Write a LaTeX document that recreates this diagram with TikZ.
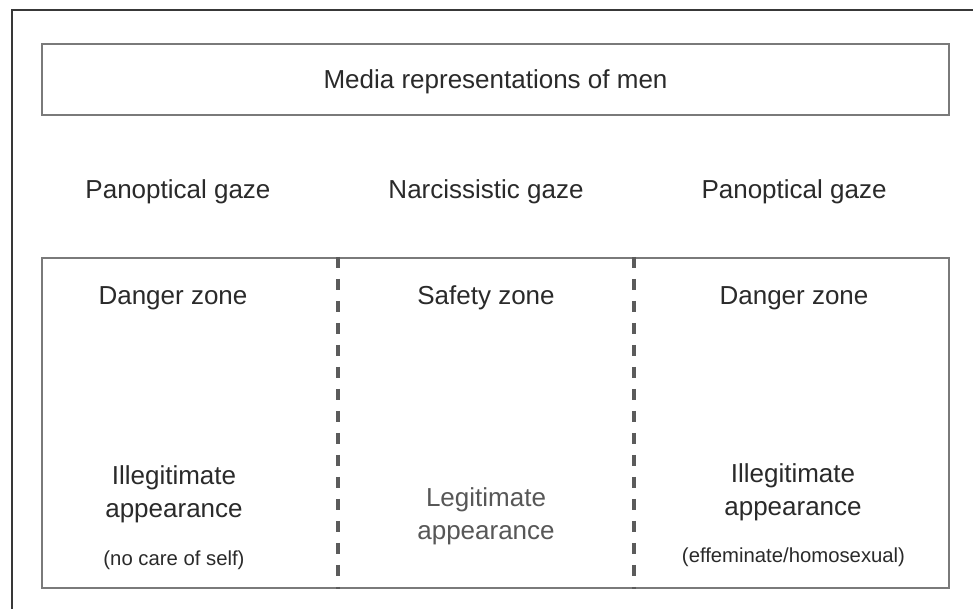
\documentclass[tikz,border=0pt]{standalone}
\usepackage{fontspec}
\setmainfont{Liberation Sans}
\definecolor{mrInk}{HTML}{2A2A2A}
\definecolor{mrSoft}{HTML}{575757}
\definecolor{mrLine}{HTML}{7A7A7A}
\definecolor{mrFrame}{HTML}{383838}
\tikzset{
  mr-box/.style={
    rectangle, draw=mrLine, line width=2.2pt, inner sep=0pt
  },
  mr-frame/.style={draw=mrFrame, line width=2.6pt},
  mr-split/.style={
    draw=mrLine!75!black, line width=3.2pt, dash pattern=on 11.5pt off 10.5pt
  },
  mr-label/.style={
    text=mrInk, font=\fontsize{26}{33}\selectfont, align=center,
    anchor=base, inner sep=0pt
  },
  mr-note/.style={
    text=mrInk, font=\fontsize{20.3}{24}\selectfont, anchor=base, inner sep=0pt
  },
}

\begin{document}
\begin{tikzpicture}[x=1pt, y=-1pt]
  \useasboundingbox (0,0) rectangle (973,608);
  \clip (0,0) rectangle (973,608);
  \fill[white] (0,0) rectangle (973,608);
  \draw[mr-frame] (12,10) rectangle (1000,640);

  % title box and zone box
  \node[mr-box, minimum width=907pt, minimum height=71pt, text depth=0pt,
        text=mrInk, font=\fontsize{26}{30}\selectfont]
                                                (media) at (495.5,79.5) {Media representations of men};
  \node[mr-box, minimum width=907pt, minimum height=330pt]
                                                (zones) at (495.5,423) {};

  \coordinate (cut1) at (338,0);
  \coordinate (cut2) at (634,0);
  \draw[mr-split] (zones.north -| cut1) -- (zones.south -| cut1);
  \draw[mr-split] (zones.north -| cut2) -- (zones.south -| cut2);

  % gazes
  \node[mr-label] (gazeL) at (178,198) {Panoptical gaze};
  \node[mr-label] (gazeM) at (486,198) {Narcissistic gaze};
  \node[mr-label] (gazeR) at (794,198) {Panoptical gaze};

  % zones
  \node[mr-label] (zoneL) at (173,304) {Danger zone};
  \node[mr-label] (zoneM) at (486,304) {Safety zone};
  \node[mr-label] (zoneR) at (794,304) {Danger zone};

  % appearances (base = last line)
  \node[mr-label] (lookL) at (174,517) {Illegitimate\\appearance};
  \node[mr-label, text=mrSoft] (lookM) at (486,539) {Legitimate\\appearance};
  \node[mr-label] (lookR) at (793,515) {Illegitimate\\appearance};

  \node[mr-note] (noteL) at (174,565) {(no care of self)};
  \node[mr-note] (noteR) at (793.5,562) {(effeminate/homosexual)};
\end{tikzpicture}
\end{document}
